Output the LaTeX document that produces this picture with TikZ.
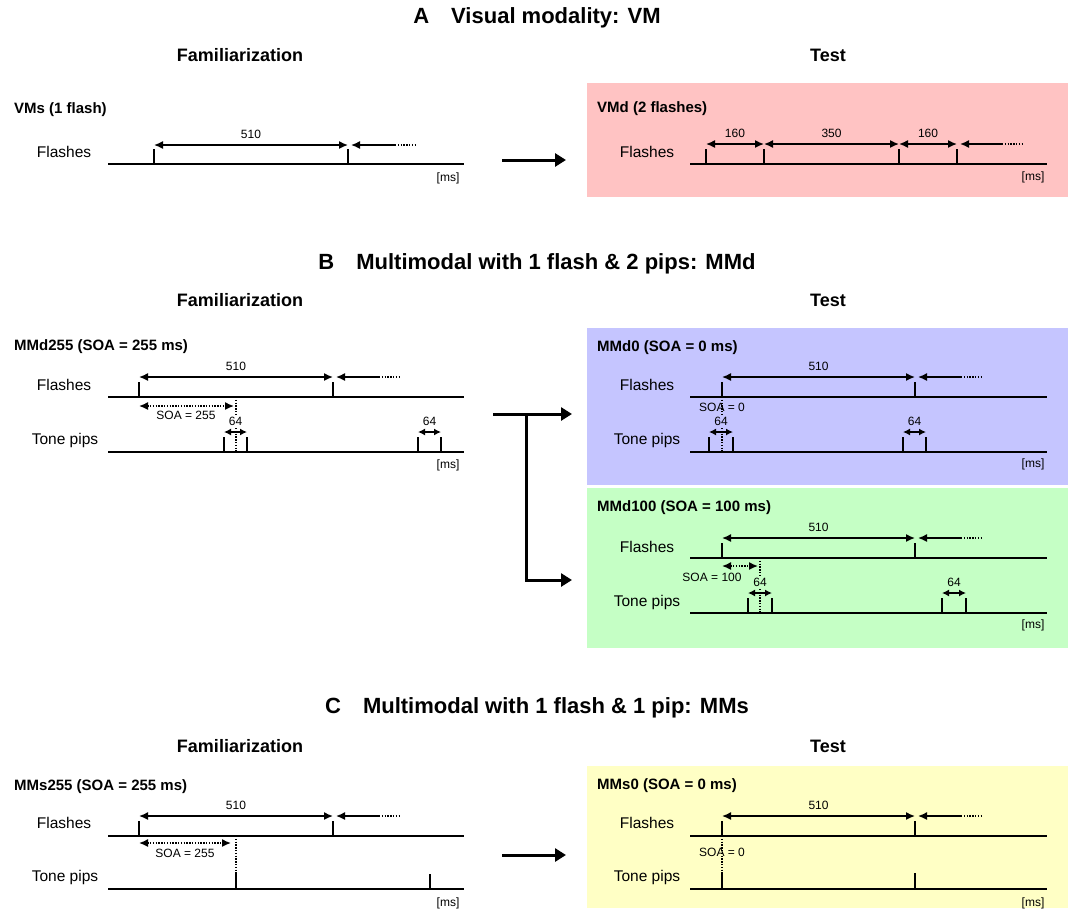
\documentclass[tikz,border=0pt]{standalone}
\usepackage{fontspec}
\setmainfont{Liberation Sans}
\usetikzlibrary{arrows.meta}

\definecolor{vmdpink}{RGB}{255,195,195}
\definecolor{mmdblue}{RGB}{197,197,255}
\definecolor{mmdgreen}{RGB}{197,255,197}
\definecolor{mmsyellow}{RGB}{255,255,197}

\tikzset{
	>={Latex[length=9pt,width=8pt]},
	axis/.style={line width=2pt},
	tick/.style={line width=1.8pt},
	dim/.style={<->, line width=1.5pt},
	pip/.style={{Latex[length=7pt,width=7pt]}-{Latex[length=7pt,width=7pt]}, line width=1.5pt},
	soa/.style={<->, line width=1.5pt, dash pattern=on 1.4pt off 1.4pt},
	next/.style={<-, line width=1.5pt},
	dots/.style={line width=1.5pt, dash pattern=on 1.4pt off 1.4pt},
	lead/.style={line width=1.4pt, dash pattern=on 1.4pt off 1.4pt},
	bigarrow/.style={-{Triangle[length=11pt,width=13pt]}, line width=3pt},
	title/.style={font=\bfseries\fontsize{22}{26}\selectfont},
	phase/.style={font=\bfseries\fontsize{18}{22}\selectfont},
	cond/.style={font=\bfseries\fontsize{15}{18}\selectfont, anchor=west, inner sep=0pt},
	row/.style={font=\fontsize{15.5}{18}\selectfont, inner sep=0pt},
	num/.style={font=\fontsize{12}{14}\selectfont, inner sep=0pt},
	unit/.style={font=\fontsize{12}{14}\selectfont, inner sep=0pt},
}

\begin{document}
\begin{tikzpicture}[x=1pt,y=-1pt]
	\useasboundingbox (0,0) rectangle (1073,919);
	
	%test boxes
	\fill[vmdpink] (587,83) rectangle (1068,197);
	\fill[mmdblue] (587,328) rectangle (1068,485);
	\fill[mmdgreen] (587,488) rectangle (1068,648);
	\fill[mmsyellow] (587,766) rectangle (1068,908);
	
	%section titles
	\node[title] (ta) at (537,18) {A\quad Visual modality: VM};
	\node[phase] (fama) at (240,55) {Familiarization};
	\node[phase] (testa) at (828,55) {Test};
	\node[title] (tb) at (537,264) {B\quad Multimodal with 1 flash \& 2 pips: MMd};
	\node[phase] (famb) at (240,300) {Familiarization};
	\node[phase] (testb) at (828,300) {Test};
	\node[title] (tc) at (537,708) {C\quad Multimodal with 1 flash \& 1 pip: MMs};
	\node[phase] (famc) at (240,746) {Familiarization};
	\node[phase] (testc) at (828,746) {Test};
	
	%VMs
	\node[cond] (vms) at (14,110) {VMs (1 flash)};
	\node[row] (vmsrow) at (64,152) {Flashes};
	\node[unit] (vmsms) at (448,178) {[ms]};
	\draw[axis] (108,164) -- (464,164);
	\coordinate (vmsf1) at (154,149);
	\coordinate (vmsf2) at (348,149);
	\draw[tick] (vmsf1) -- ++(0,15);
	\draw[tick] (vmsf2) -- ++(0,15);
	\draw[dim] ([yshift=4pt]vmsf1) -- node[num,above=6pt]{510} ([yshift=4pt]vmsf2);
	\draw[next] ([shift={(3pt,4pt)}]vmsf2) -- ++(44,0) coordinate (vmsdots);
	\draw[dots] (vmsdots) -- ++(20,0);
	
	%VMd
	\node[cond] (vmd) at (597,109) {VMd (2 flashes)};
	\node[row] (vmdrow) at (647,152) {Flashes};
	\node[unit] (vmdms) at (1033,177) {[ms]};
	\draw[axis] (690,164) -- (1047,164);
	\coordinate (vmdf1) at (706,149);
	\coordinate (vmdf2) at (764,149);
	\coordinate (vmdf3) at (899,149);
	\coordinate (vmdf4) at (957,149);
	\draw[tick] (vmdf1) -- ++(0,15);
	\draw[tick] (vmdf2) -- ++(0,15);
	\draw[tick] (vmdf3) -- ++(0,15);
	\draw[tick] (vmdf4) -- ++(0,15);
	\draw[dim] ([yshift=5pt]vmdf1) -- node[num,above=6pt]{160} ([yshift=5pt]vmdf2);
	\draw[dim] ([yshift=5pt]vmdf2) -- node[num,above=6pt]{350} ([yshift=5pt]vmdf3);
	\draw[dim] ([yshift=5pt]vmdf3) -- node[num,above=6pt]{160} ([yshift=5pt]vmdf4);
	\draw[next] ([shift={(3pt,5pt)}]vmdf4) -- ++(42,0) coordinate (vmddots);
	\draw[dots] (vmddots) -- ++(20,0);
	
	%familiarization to test
	\coordinate (aarr0) at (502,160);
	\coordinate (aarr1) at (566,160);
	\draw[bigarrow] (aarr0) -- (aarr1);
	
	%MMd255
	\node[cond] (mmd255) at (14,347) {MMd255 (SOA = 255 ms)};
	\node[row] (mmdfl) at (64,385) {Flashes};
	\node[row] (mmdtp) at (65,440) {Tone pips};
	\node[unit] (mmdms) at (448,465) {[ms]};
	\draw[axis] (108,397) -- (464,397);
	\draw[axis] (108,452) -- (464,452);
	\coordinate (mmdf1) at (139,382);
	\coordinate (mmdf2) at (333,382);
	\draw[tick] (mmdf1) -- ++(0,15);
	\draw[tick] (mmdf2) -- ++(0,15);
	\draw[dim] ([yshift=5pt]mmdf1) -- node[num,above=6pt]{510} ([yshift=5pt]mmdf2);
	\draw[next] ([shift={(3pt,5pt)}]mmdf2) -- ++(43,0) coordinate (mmddots);
	\draw[dots] (mmddots) -- ++(20,0);
	\coordinate (mmdsoa0) at (139,406);
	\coordinate (mmdsoa1) at (234,406);
	\draw[soa] (mmdsoa0) -- (mmdsoa1);
	\node[num] (mmdsoa) at (186,415) {SOA = 255};
	\draw[lead] (236,397) -- (236,414);
	\draw[lead] (236,428) -- (236,452);
	\coordinate (mmdp1) at (224,437);
	\coordinate (mmdp2) at (247,437);
	\coordinate (mmdp3) at (418,437);
	\coordinate (mmdp4) at (441,437);
	\draw[tick] (mmdp1) -- ++(0,15);
	\draw[tick] (mmdp2) -- ++(0,15);
	\draw[tick] (mmdp3) -- ++(0,15);
	\draw[tick] (mmdp4) -- ++(0,15);
	\draw[pip] ([yshift=5pt]mmdp1) -- node[num,above=6pt]{64} ([yshift=5pt]mmdp2);
	\draw[pip] ([yshift=5pt]mmdp3) -- node[num,above=6pt]{64} ([yshift=5pt]mmdp4);
	
	%split to both tests
	\coordinate (barr0) at (493,414);
	\coordinate (bsplit) at (526,414);
	\coordinate (barr1) at (572,414);
	\coordinate (barr2) at (572,580);
	\draw[bigarrow] (barr0) -- (barr1);
	\draw[bigarrow] (bsplit) |- (barr2);
	
	%MMd0
	\node[cond] (mmd0) at (597,348) {MMd0 (SOA = 0 ms)};
	\node[row] (mmd0fl) at (647,385) {Flashes};
	\node[row] (mmd0tp) at (647,440) {Tone pips};
	\node[unit] (mmd0ms) at (1033,464) {[ms]};
	\draw[axis] (690,397) -- (1047,397);
	\draw[axis] (690,452) -- (1047,452);
	\coordinate (mmd0f1) at (722,382);
	\coordinate (mmd0f2) at (915,382);
	\draw[tick] (mmd0f1) -- ++(0,15);
	\draw[tick] (mmd0f2) -- ++(0,15);
	\draw[dim] ([yshift=5pt]mmd0f1) -- node[num,above=6pt]{510} ([yshift=5pt]mmd0f2);
	\draw[next] ([shift={(3pt,5pt)}]mmd0f2) -- ++(43,0) coordinate (mmd0dots);
	\draw[dots] (mmd0dots) -- ++(20,0);
	\draw[lead] (722,397) -- (722,414);
	\draw[lead] (722,428) -- (722,452);
	\node[num] (mmd0soa) at (722,407) {SOA = 0};
	\coordinate (mmd0p1) at (709,437);
	\coordinate (mmd0p2) at (733,437);
	\coordinate (mmd0p3) at (903,437);
	\coordinate (mmd0p4) at (926,437);
	\draw[tick] (mmd0p1) -- ++(0,15);
	\draw[tick] (mmd0p2) -- ++(0,15);
	\draw[tick] (mmd0p3) -- ++(0,15);
	\draw[tick] (mmd0p4) -- ++(0,15);
	\draw[pip] ([yshift=5pt]mmd0p1) -- node[num,above=6pt]{64} ([yshift=5pt]mmd0p2);
	\draw[pip] ([yshift=5pt]mmd0p3) -- node[num,above=6pt]{64} ([yshift=5pt]mmd0p4);
	
	%MMd100
	\node[cond] (mmd100) at (597,508) {MMd100 (SOA = 100 ms)};
	\node[row] (mmd100fl) at (647,547) {Flashes};
	\node[row] (mmd100tp) at (647,602) {Tone pips};
	\node[unit] (mmd100ms) at (1033,625) {[ms]};
	\draw[axis] (690,558) -- (1047,558);
	\draw[axis] (690,613) -- (1047,613);
	\coordinate (mmd100f1) at (722,543);
	\coordinate (mmd100f2) at (915,543);
	\draw[tick] (mmd100f1) -- ++(0,15);
	\draw[tick] (mmd100f2) -- ++(0,15);
	\draw[dim] ([yshift=5pt]mmd100f1) -- node[num,above=6pt]{510} ([yshift=5pt]mmd100f2);
	\draw[next] ([shift={(3pt,5pt)}]mmd100f2) -- ++(43,0) coordinate (mmd100dots);
	\draw[dots] (mmd100dots) -- ++(20,0);
	\coordinate (mmd100soa0) at (722,566);
	\coordinate (mmd100soa1) at (758,566);
	\draw[soa] (mmd100soa0) -- (mmd100soa1);
	\node[num] (mmd100soa) at (712,577) {SOA = 100};
	\draw[lead] (760,558) -- (760,575);
	\draw[lead] (760,589) -- (760,613);
	\coordinate (mmd100p1) at (748,598);
	\coordinate (mmd100p2) at (772,598);
	\coordinate (mmd100p3) at (942,598);
	\coordinate (mmd100p4) at (966,598);
	\draw[tick] (mmd100p1) -- ++(0,15);
	\draw[tick] (mmd100p2) -- ++(0,15);
	\draw[tick] (mmd100p3) -- ++(0,15);
	\draw[tick] (mmd100p4) -- ++(0,15);
	\draw[pip] ([yshift=5pt]mmd100p1) -- node[num,above=6pt]{64} ([yshift=5pt]mmd100p2);
	\draw[pip] ([yshift=5pt]mmd100p3) -- node[num,above=6pt]{64} ([yshift=5pt]mmd100p4);
	
	%MMs255
	\node[cond] (mms255) at (14,787) {MMs255 (SOA = 255 ms)};
	\node[row] (mmsfl) at (64,823) {Flashes};
	\node[row] (mmstp) at (65,877) {Tone pips};
	\node[unit] (mmsms) at (448,903) {[ms]};
	\draw[axis] (108,836) -- (464,836);
	\draw[axis] (108,889) -- (464,889);
	\coordinate (mmsf1) at (139,821);
	\coordinate (mmsf2) at (333,821);
	\draw[tick] (mmsf1) -- ++(0,15);
	\draw[tick] (mmsf2) -- ++(0,15);
	\draw[dim] ([yshift=5pt]mmsf1) -- node[num,above=6pt]{510} ([yshift=5pt]mmsf2);
	\draw[next] ([shift={(3pt,5pt)}]mmsf2) -- ++(43,0) coordinate (mmsdots);
	\draw[dots] (mmsdots) -- ++(20,0);
	\coordinate (mmssoa0) at (139,843);
	\coordinate (mmssoa1) at (231,843);
	\draw[soa] (mmssoa0) -- (mmssoa1);
	\node[num] (mmssoa) at (185,853) {SOA = 255};
	\draw[lead] (236,836) -- (236,873);
	\coordinate (mmsp1) at (236,873);
	\coordinate (mmsp2) at (430,874);
	\draw[tick] (mmsp1) -- (236,889);
	\draw[tick] (mmsp2) -- (430,889);
	
	%familiarization to test
	\coordinate (carr0) at (502,855);
	\coordinate (carr1) at (566,855);
	\draw[bigarrow] (carr0) -- (carr1);
	
	%MMs0
	\node[cond] (mms0) at (597,786) {MMs0 (SOA = 0 ms)};
	\node[row] (mms0fl) at (647,823) {Flashes};
	\node[row] (mms0tp) at (647,877) {Tone pips};
	\node[unit] (mms0ms) at (1033,903) {[ms]};
	\draw[axis] (690,836) -- (1047,836);
	\draw[axis] (690,889) -- (1047,889);
	\coordinate (mms0f1) at (722,821);
	\coordinate (mms0f2) at (915,821);
	\draw[tick] (mms0f1) -- ++(0,15);
	\draw[tick] (mms0f2) -- ++(0,15);
	\draw[dim] ([yshift=5pt]mms0f1) -- node[num,above=6pt]{510} ([yshift=5pt]mms0f2);
	\draw[next] ([shift={(3pt,5pt)}]mms0f2) -- ++(43,0) coordinate (mms0dots);
	\draw[dots] (mms0dots) -- ++(20,0);
	\draw[lead] (722,836) -- (722,873);
	\node[num] (mms0soa) at (722,852) {SOA = 0};
	\coordinate (mms0p1) at (722,873);
	\coordinate (mms0p2) at (915,873);
	\draw[tick] (mms0p1) -- ++(0,16);
	\draw[tick] (mms0p2) -- ++(0,16);
	
\end{tikzpicture}
\end{document}
